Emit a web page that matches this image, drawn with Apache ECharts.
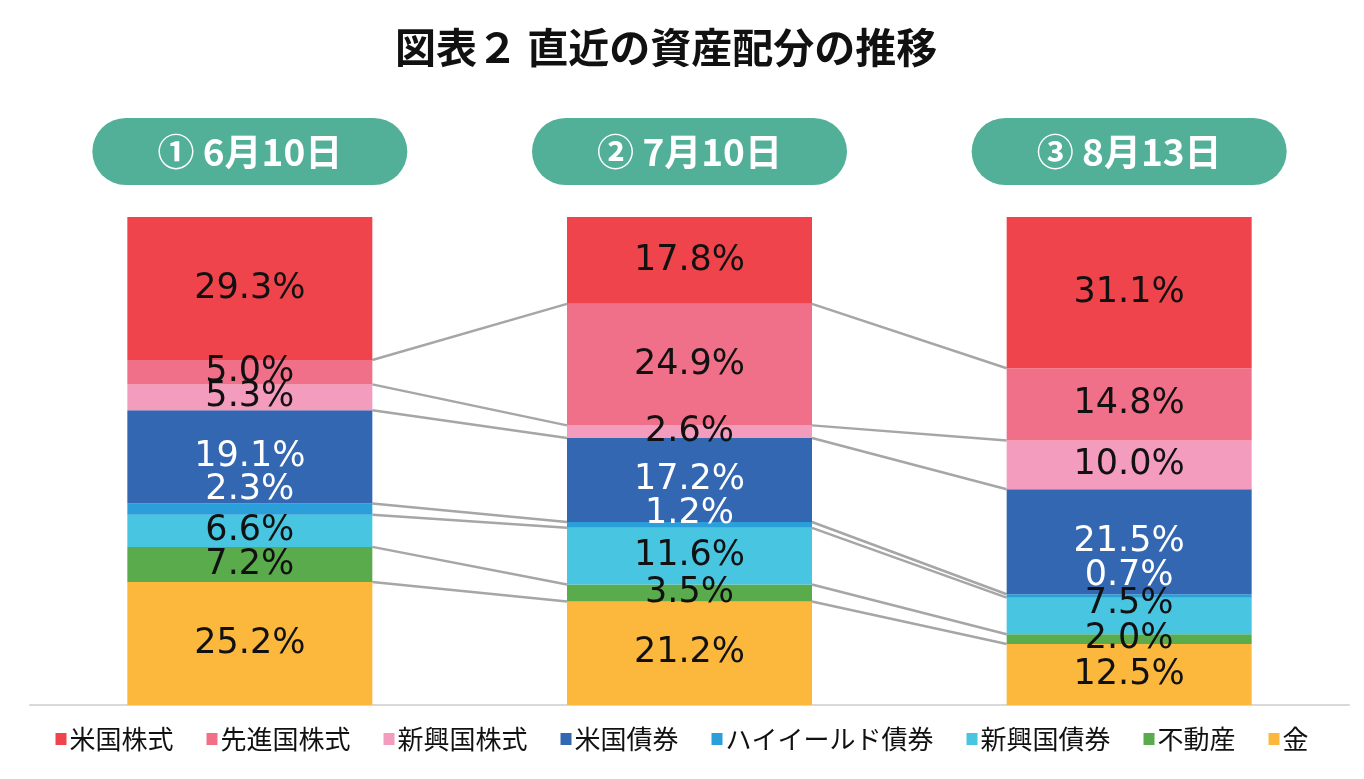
<!DOCTYPE html>
<html lang="ja">
<head>
<meta charset="UTF-8">
<title>直近の資産配分の推移</title>
<script src="https://cdn.jsdelivr.net/npm/echarts@6/dist/echarts.min.js"></script>
<style>
  html, body { margin: 0; padding: 0; background: #fff; }
  #chart { width: 1364px; height: 779px; }
</style>
</head>
<body>
<div id="chart"></div>
<script>
// data
const dates = ['① 6月10日', '② 7月10日', '③ 8月13日'];
const assetNames = ['米国株式', '先進国株式', '新興国株式', '米国債券', 'ハイイールド債券', '新興国債券', '不動産', '金'];

const usStock    = [29.3, 17.8, 31.1];
const devStock   = [5.0, 24.9, 14.8];
const emStock    = [5.3, 2.6, 10.0];
const usBond     = [19.1, 17.2, 21.5];
const hyBond     = [2.3, 1.2, 0.7];
const emBond     = [6.6, 11.6, 7.5];
const realEstate = [7.2, 3.5, 2.0];
const gold       = [25.2, 21.2, 12.5];

const colors = {
  '米国株式': '#ef444b',
  '先進国株式': '#f07089',
  '新興国株式': '#f39cbd',
  '米国債券': '#3367b1',
  'ハイイールド債券': '#2b9fd9',
  '新興国債券': '#48c5e1',
  '不動産': '#5aab4b',
  '金': '#fbb83c'
};

// stacking order, bottom first
const stackOrder = [
  ['金', gold],
  ['不動産', realEstate],
  ['新興国債券', emBond],
  ['ハイイールド債券', hyBond],
  ['米国債券', usBond],
  ['新興国株式', emStock],
  ['先進国株式', devStock],
  ['米国株式', usStock]
];

const BAR_W = 245;
const whiteLabels = ['米国債券', 'ハイイールド債券'];
// small nudges where labels would collide
const labelNudge = { 'ハイイールド債券': [-19, -11, -20], '新興国債券': [0, 0, -12] };

const barSeries = stackOrder.map(([name, vals]) => ({
  name: name,
  type: 'bar',
  stack: 'total',
  barWidth: BAR_W,
  itemStyle: { color: colors[name] },
  data: vals.map((v, i) => ({
    value: v,
    label: { offset: [0, labelNudge[name] ? labelNudge[name][i] : 0] }
  })),
  label: {
    show: true,
    position: 'inside',
    formatter: p => p.value.toFixed(1) + '%',
    fontFamily: 'DejaVu Sans, sans-serif',
    fontSize: 35,
    color: whiteLabels.includes(name) ? '#ffffff' : '#111111'
  }
}));

// connector lines between matching boundaries of adjacent bars
const linkData = [];
for (let i = 0; i < dates.length - 1; i++) {
  let cumL = 0, cumR = 0;
  for (let k = 0; k < stackOrder.length - 1; k++) {
    cumL += stackOrder[k][1][i];
    cumR += stackOrder[k][1][i + 1];
    linkData.push([i, cumL, cumR]);
  }
}

const linkSeries = {
  name: 'links',
  type: 'custom',
  silent: true,
  data: linkData,
  encode: { x: 0, y: [1, 2] },
  z: 1,
  renderItem: function (params, api) {
    const i = api.value(0);
    const p1 = api.coord([i, api.value(1)]);
    const p2 = api.coord([i + 1, api.value(2)]);
    const half = BAR_W / 2;
    return {
      type: 'line',
      shape: { x1: p1[0] + half, y1: p1[1], x2: p2[0] - half, y2: p2[1] },
      style: { stroke: '#a6a6a6', lineWidth: 2.5 }
    };
  }
};

const chart = echarts.init(document.getElementById('chart'));
chart.setOption({
  animation: false,
  title: {
    text: '図表２ 直近の資産配分の推移',
    left: 390,
    top: 22,
    textStyle: {
      fontFamily: 'Noto Sans CJK JP, sans-serif',
      fontSize: 41,
      fontWeight: 'bold',
      color: '#111'
    }
  },
  legend: {
    data: assetNames,
    bottom: 22,
    left: 'center',
    icon: 'rect',
    itemWidth: 11,
    itemHeight: 12,
    itemGap: 33,
    textStyle: {
      fontFamily: 'Noto Sans CJK JP, sans-serif',
      fontSize: 26,
      color: '#111',
      padding: [0, 0, 0, -2]
    }
  },
  grid: { left: 30, right: 15, top: 217, bottom: 74 },
  xAxis: [
    {
      type: 'category',
      data: dates,
      axisLine: { lineStyle: { color: '#d9d9d9', width: 2 } },
      axisTick: { show: false },
      axisLabel: { show: false }
    },
    {
      type: 'category',
      data: dates,
      position: 'top',
      axisLine: { show: false },
      axisTick: { show: false },
      axisLabel: {
        margin: 32,
        width: 315,
        height: 67,
        lineHeight: 67,
        align: 'center',
        backgroundColor: '#52b098',
        borderRadius: 34,
        color: '#ffffff',
        fontFamily: 'Noto Sans CJK JP, sans-serif',
        fontSize: 37,
        fontWeight: 'bold'
      }
    }
  ],
  yAxis: {
    type: 'value',
    min: 0,
    max: 100,
    show: false,
    splitLine: { show: false }
  },
  series: barSeries.concat([linkSeries])
});
</script>
</body>
</html>
